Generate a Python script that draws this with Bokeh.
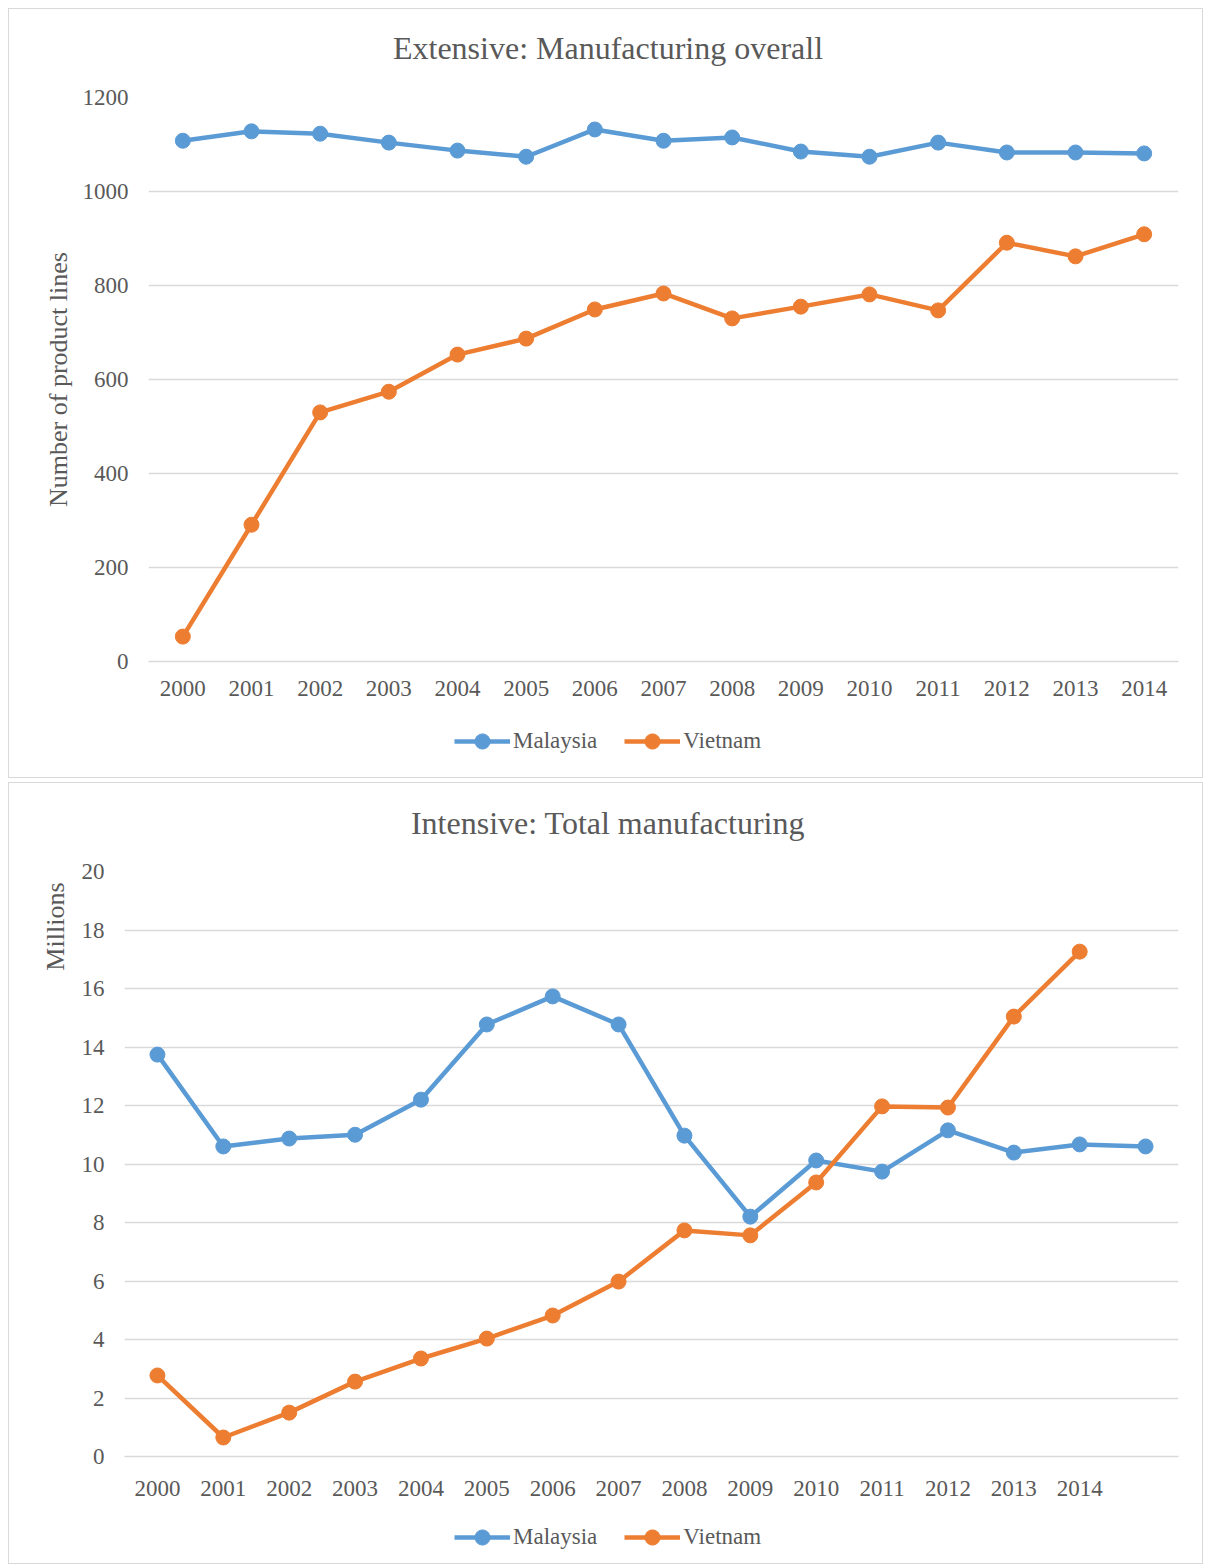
from bokeh.plotting import figure
from bokeh.models import (Range1d, FactorRange, Legend, LegendItem, Title, Label,
                          SingleIntervalTicker)
from bokeh.layouts import column
from bokeh.embed import file_html
from bokeh.resources import INLINE

# ---------------- data ----------------
years = ["2000", "2001", "2002", "2003", "2004", "2005", "2006", "2007",
         "2008", "2009", "2010", "2011", "2012", "2013", "2014"]

ext_malaysia = [1108, 1128, 1123, 1104, 1087, 1074, 1132, 1108, 1115, 1085, 1074, 1104, 1083, 1083, 1081]
ext_vietnam = [53, 291, 530, 574, 653, 687, 749, 783, 730, 755, 781, 747, 891, 862, 909]

int_categories = years + [" "]
int_malaysia = [13.74, 10.60, 10.87, 11.00, 12.20, 14.77, 15.73, 14.77, 10.97, 8.20, 10.12, 9.74, 11.15, 10.39, 10.67, 10.60]
int_vietnam = [2.77, 0.65, 1.50, 2.56, 3.35, 4.03, 4.82, 5.98, 7.73, 7.56, 9.37, 11.97, 11.93, 15.04, 17.26]

series_names = ["Malaysia", "Vietnam"]
titles = ["Extensive: Manufacturing overall", "Intensive: Total manufacturing"]

# ---------------- style ----------------
BLUE = "#5B9BD5"
ORANGE = "#ED7D31"
COLORS = [BLUE, ORANGE]
TEXT = "#595959"
GRID = "#D9D9D9"
FONT = "Liberation Serif"
W = 1193


def strip(height, mb_left):
    # frames in one column are aligned, so keep the same left border as the chart
    f = figure(width=W, height=height, x_range=Range1d(0, 1), y_range=Range1d(0, 1),
               x_axis_type=None, y_axis_type=None, output_backend="svg",
               toolbar_location=None, min_border_left=mb_left, min_border_right=24,
               min_border_top=0, min_border_bottom=0, outline_line_color=None,
               background_fill_color="white", border_fill_color="white")
    return f


def title_strip(text, height, cy, mb_left):
    f = strip(height, mb_left)
    f.add_layout(Label(x=598.5 - mb_left, y=height - cy, x_units="screen", y_units="screen",
                       text=text, text_align="center", text_baseline="middle", text_font=FONT,
                       text_font_size="32px", text_color=TEXT))
    return f


def legend_strip(height, vy, mb_left):
    f = strip(height, mb_left)
    items = []
    for name, col in zip(series_names, COLORS):
        # legend-only renderers, kept outside the strip's visible range
        l = f.line([-5, -4], [-5, -5], line_color=col, line_width=4.5)
        s = f.scatter([-5], [-5], size=15, fill_color=col, line_color=col)
        items.append(LegendItem(label=name, renderers=[l, s]))
    leg = Legend(items=items, orientation="horizontal", location=(445 - mb_left, vy),
                 glyph_width=56, glyph_height=38, label_standoff=3, spacing=27,
                 padding=0, margin=0, border_line_color=None, background_fill_alpha=0,
                 label_text_font=FONT, label_text_font_size="23px", label_text_color=TEXT)
    f.add_layout(leg)
    return f


def main_fig(cats, ys, y_end, y_step, height, mb_left, mb_top, mb_bottom, ylabel=None):
    p = figure(width=W, height=height, x_range=FactorRange(factors=cats, range_padding=0),
               y_range=Range1d(0, y_end), output_backend="svg", toolbar_location=None,
               min_border_left=mb_left, min_border_right=24,
               min_border_top=mb_top, min_border_bottom=mb_bottom,
               background_fill_color="white", border_fill_color="white")
    p.outline_line_color = None
    p.xgrid.grid_line_color = None
    p.ygrid.grid_line_color = GRID
    p.ygrid.grid_line_width = 1.5

    p.yaxis.ticker = SingleIntervalTicker(interval=y_step)
    for ax in (p.xaxis[0], p.yaxis[0]):
        ax.major_tick_line_color = None
        ax.minor_tick_line_color = None
        ax.major_tick_in = 0
        ax.major_tick_out = 0
        ax.major_label_text_font = FONT
        ax.major_label_text_font_size = "23px"
        ax.major_label_text_color = TEXT
    p.yaxis.axis_line_color = None
    p.xaxis.axis_line_color = GRID
    p.xaxis.axis_line_width = 1.5
    p.xaxis.major_label_standoff = 19
    p.yaxis.major_label_standoff = 16
    if ylabel:
        p.yaxis.axis_label = ylabel
        p.yaxis.axis_label_text_font = FONT
        p.yaxis.axis_label_text_font_size = "26px"
        p.yaxis.axis_label_text_font_style = "normal"
        p.yaxis.axis_label_text_color = TEXT
        p.yaxis.axis_label_standoff = 7

    for vals, col in zip(ys, COLORS):
        xs = cats[:len(vals)]
        p.line(xs, vals, line_color=col, line_width=4.5, line_join="round")
        p.scatter(xs, vals, size=15, fill_color=col, line_color=col)
    return p


BORDER = {"border": "1px solid #D9D9D9"}

TOP_LEFT = 139
top_main = main_fig(years, [ext_malaysia, ext_vietnam], 1200, 200, 640, TOP_LEFT, 20, 56,
                    ylabel="Number of product lines")
top_panel = column(title_strip(titles[0], 68, 38, TOP_LEFT), top_main,
                   legend_strip(60, 17, TOP_LEFT), spacing=0, styles=BORDER)

BOT_LEFT = 115
bot_main = main_fig(int_categories, [int_malaysia, int_vietnam], 20, 2, 662, BOT_LEFT, 20, 57)
bot_main.add_layout(Title(text="Millions", align="right", offset=11, text_font=FONT,
                          text_font_size="26px", text_font_style="normal", text_color=TEXT,
                          vertical_align="middle", standoff=16), "left")
bot_panel = column(title_strip(titles[1], 68, 39, BOT_LEFT), bot_main,
                   legend_strip(50, 7, BOT_LEFT), spacing=0, styles=BORDER)

layout = column(top_panel, bot_panel, spacing=4, margin=(8, 0, 0, 8))
open("out.html", "w").write(file_html(layout, INLINE))
